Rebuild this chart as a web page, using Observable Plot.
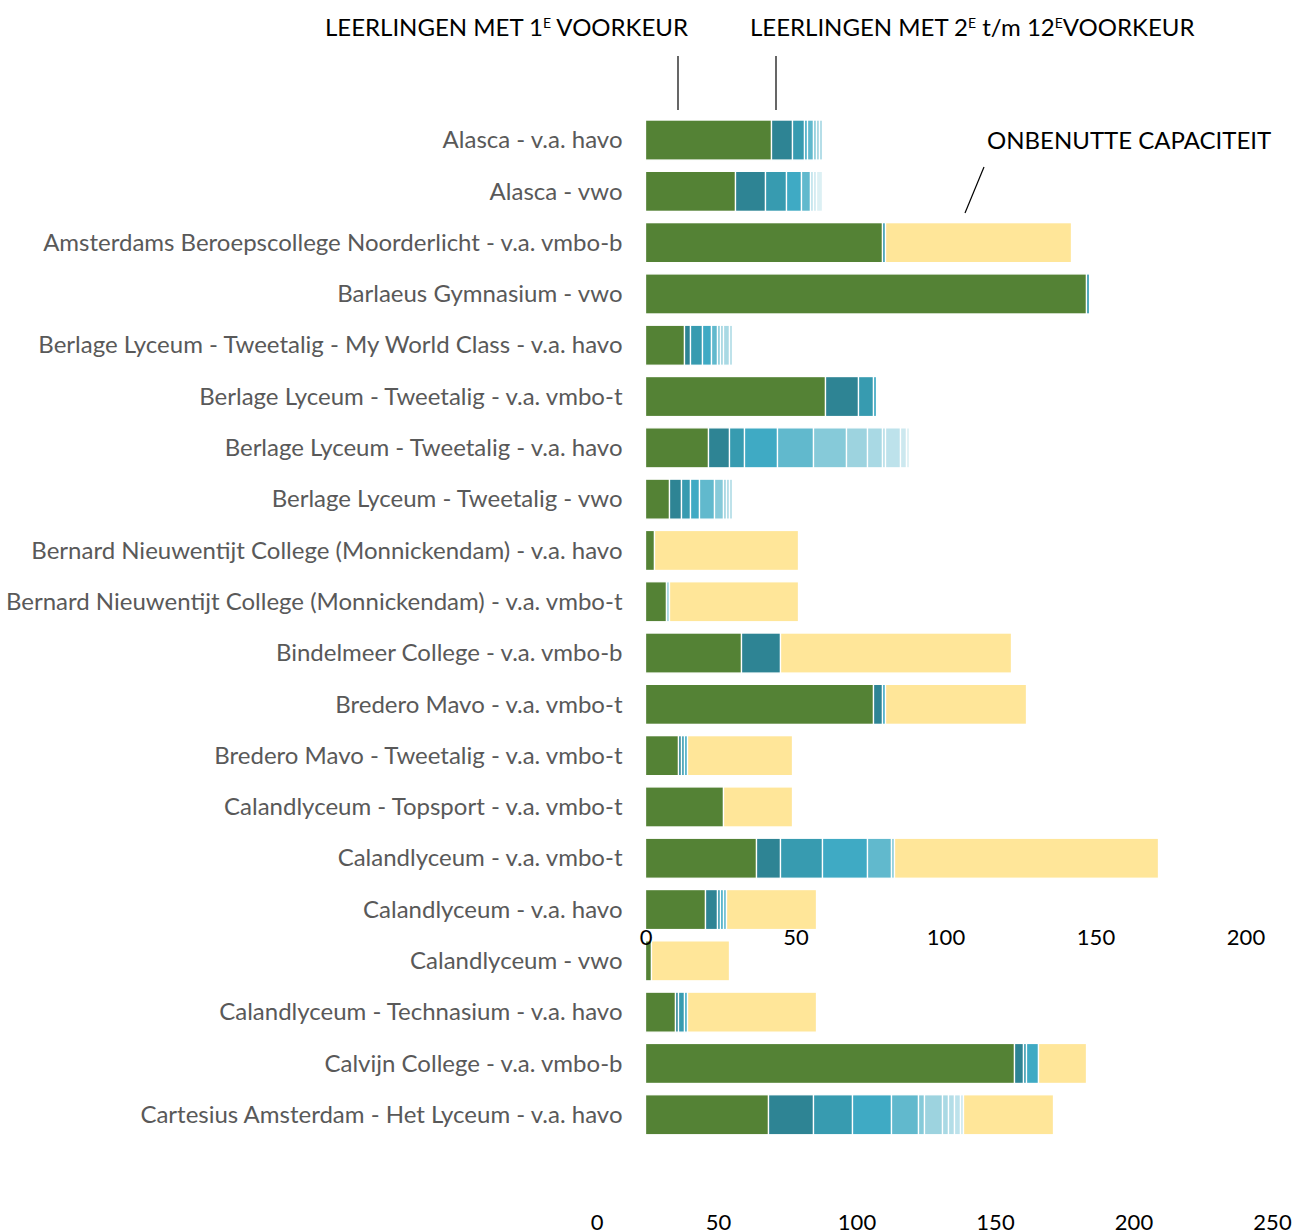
<!DOCTYPE html>
<html><head><meta charset="utf-8">
<script src="https://cdn.jsdelivr.net/npm/d3@7"></script>
<script src="https://cdn.jsdelivr.net/npm/@observablehq/plot@0.6"></script>
<style>
html,body{margin:0;padding:0;background:#fff;}
#wrap{position:relative;width:1309px;height:1232px;font-family:Lato,sans-serif;overflow:hidden;}
#wrap svg{position:absolute;left:0;top:0;}
</style></head><body><div id="wrap"></div>
<script>
// ---- data ----
const schools = [
  "Alasca - v.a. havo",
  "Alasca - vwo",
  "Amsterdams Beroepscollege Noorderlicht - v.a. vmbo-b",
  "Barlaeus Gymnasium - vwo",
  "Berlage Lyceum - Tweetalig - My World Class - v.a. havo",
  "Berlage Lyceum - Tweetalig - v.a. vmbo-t",
  "Berlage Lyceum - Tweetalig - v.a. havo",
  "Berlage Lyceum - Tweetalig - vwo",
  "Bernard Nieuwentijt College (Monnickendam) - v.a. havo",
  "Bernard Nieuwentijt College (Monnickendam) - v.a. vmbo-t",
  "Bindelmeer College - v.a. vmbo-b",
  "Bredero Mavo - v.a. vmbo-t",
  "Bredero Mavo - Tweetalig - v.a. vmbo-t",
  "Calandlyceum - Topsport - v.a. vmbo-t",
  "Calandlyceum - v.a. vmbo-t",
  "Calandlyceum - v.a. havo",
  "Calandlyceum - vwo",
  "Calandlyceum - Technasium - v.a. havo",
  "Calvijn College - v.a. vmbo-b",
  "Cartesius Amsterdam - Het Lyceum - v.a. havo"
];
// leerlingen met 1e voorkeur
const firstPref = [42, 30, 79, 147, 13, 60, 21, 8, 3, 7, 32, 76, 11, 26, 37, 20, 2, 10, 123, 41];
// leerlingen met 2e t/m 12e voorkeur (per voorkeur, 2e eerst)
const laterPrefs = [
  [7, 4, 1, 2, 1, 1, 1],
  [10, 7, 5, 3, 0, 0, 0, 0, 1, 1, 2],
  [0, 1],
  [0, 1],
  [2, 4, 3, 2, 1, 1, 2, 1],
  [11, 5, 1],
  [7, 5, 11, 12, 11, 7, 5, 1, 5, 2, 1],
  [4, 3, 3, 5, 3, 1, 1, 1],
  [],
  [0, 0, 0, 0, 0, 1],
  [13],
  [3, 0, 1],
  [1, 1, 1],
  [],
  [8, 14, 15, 8, 1],
  [4, 1, 1, 1],
  [],
  [1, 2, 1],
  [3, 1, 4],
  [15, 13, 13, 9, 2, 6, 2, 2, 2, 1]
];
// onbenutte capaciteit
const unusedCapacity = [0, 0, 62, 0, 0, 0, 0, 0, 48, 43, 77, 47, 35, 23, 88, 30, 26, 43, 16, 30];

const segmentKeys = ["1e","2e","3e","4e","5e","6e","7e","8e","9e","10e","11e","12e","onbenut"];
const segmentColors = ["#548235","#2e8494","#379bb0","#3faac4","#61b9cd","#86cad9","#9dd3df","#a9d9e4","#b3dde7","#bde2eb","#cce8ef","#dcf0f4","#ffe699"];
const xTicks = [0, 50, 100, 150, 200];
const bottomTicks = [0, 50, 100, 150, 200, 250];

// ---- table ----
const rows = [];
schools.forEach((s, i) => {
  rows.push({school: s, key: "1e", value: firstPref[i]});
  laterPrefs[i].forEach((v, j) => { if (v > 0) rows.push({school: s, key: segmentKeys[j + 1], value: v}); });
  if (unusedCapacity[i] > 0) rows.push({school: s, key: "onbenut", value: unusedCapacity[i]});
});

const wrap = document.getElementById("wrap");

const chart = Plot.plot({
  width: 1309,
  height: 1232,
  marginLeft: 645.5,
  marginRight: 63.5,
  marginTop: 114.4,
  marginBottom: 91.6,
  style: {fontFamily: "Lato, sans-serif", fontSize: "24px", background: "white", overflow: "visible"},
  x: {domain: [0, 200]},
  y: {domain: schools, paddingInner: 0.22, paddingOuter: 0.11, round: false},
  color: {domain: segmentKeys, range: segmentColors},
  marks: [
    Plot.barX(rows, {x: "value", y: "school", fill: "key", stroke: "white", strokeWidth: 1.3}),
    Plot.axisY({tickSize: 0, tickPadding: 23.5, label: null, fill: "#595959", fontSize: 24}),
    Plot.axisX({anchor: "bottom", ticks: xTicks, tickSize: 0, tickPadding: 0, dy: -211.4, label: null, fill: "#000", fontSize: 22})
  ]
});
wrap.appendChild(chart);

// bottom axis (separate scale as in the reference)
const bottomAxis = Plot.plot({
  width: 1309,
  height: 60,
  marginLeft: 579.5,
  marginRight: 37,
  marginTop: 0,
  marginBottom: 36.5,
  style: {fontFamily: "Lato, sans-serif", fontSize: "22px", background: "transparent"},
  x: {domain: [0, 250]},
  marks: [
    Plot.axisX(bottomTicks.filter(d => d > 0), {anchor: "bottom", tickSize: 0, tickPadding: 0, label: null, fill: "#000", fontSize: 22}),
    Plot.axisX([0], {anchor: "bottom", tickSize: 0, tickPadding: 0, label: null, fill: "#000", fontSize: 22, dx: 17})
  ]
});
bottomAxis.style.top = "1190px";
wrap.appendChild(bottomAxis);

// annotations
const ann = d3.select(wrap).append("svg").attr("width", 1309).attr("height", 240)
  .style("font-family", "Lato, sans-serif").style("font-size", "24px");
function header(x, y, parts) {
  const t = ann.append("text").attr("x", x).attr("y", y).attr("fill", "#000");
  let prevSup = false;
  parts.forEach(([txt, sup]) => {
    const dy = sup ? -8 : (prevSup ? 8 : 0);
    const ts = t.append("tspan").attr("dy", dy).text(txt);
    if (sup) ts.attr("font-size", 14);
    prevSup = sup;
  });
}
header(325, 36, [["LEERLINGEN MET 1", false], ["E", true], [" VOORKEUR", false]]);
header(750, 36, [["LEERLINGEN MET 2", false], ["E", true], [" t/m 12", false], ["E", true], ["VOORKEUR", false]]);
ann.append("text").attr("x", 987).attr("y", 149).attr("fill", "#000").text("ONBENUTTE CAPACITEIT");
[[678, 56, 678, 110], [776, 56, 776, 110], [984, 167, 965, 213]].forEach(([x1, y1, x2, y2]) =>
  ann.append("line").attr("x1", x1).attr("y1", y1).attr("x2", x2).attr("y2", y2).attr("stroke", "#000").attr("stroke-width", 1.2));
</script></body></html>
